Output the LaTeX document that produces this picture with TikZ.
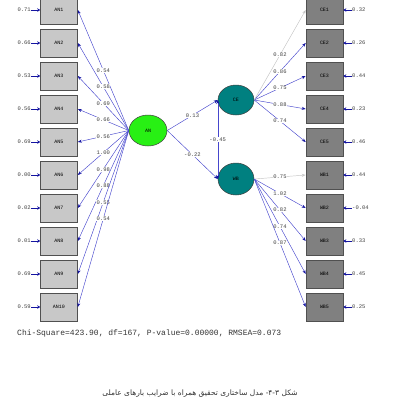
\documentclass[tikz,border=0pt]{standalone}
\usepackage{fontspec}
\setmonofont{Liberation Mono}
\newfontfamily\arabicfont[Script=Arabic]{DejaVu Sans}
\TeXXeTstate=1
\usetikzlibrary{arrows.meta,shapes.geometric}
\definecolor{lnblue}{RGB}{70,70,205}
\definecolor{tipblue}{RGB}{20,20,160}
\definecolor{lbox}{RGB}{200,200,200}
\definecolor{dbox}{RGB}{128,128,128}
\definecolor{boxedge}{RGB}{80,80,80}
\definecolor{angreen}{RGB}{40,240,20}
\definecolor{tealc}{RGB}{0,128,128}
\definecolor{fixgray}{RGB}{195,195,195}
\begin{document}
\begin{tikzpicture}[x=1pt,y=-1pt,
 obsl/.style={draw=boxedge,fill=lbox,minimum width=37pt,minimum height=28pt,inner sep=0pt,line width=0.6pt,font=\ttfamily\fontsize{5}{5}\selectfont},
 obsr/.style={obsl,fill=dbox},
 lat/.style={ellipse,draw=black!75,line width=0.5pt,inner sep=0pt,font=\ttfamily\fontsize{5}{5}\selectfont},
 lpath/.style={draw=lnblue,line width=0.45pt,-{Stealth[length=4pt,width=3pt,color=tipblue]}},
 coef/.style={font=\ttfamily\fontsize{5.5}{5.5}\selectfont,fill=white,inner sep=0.4pt,text=black!75},
 errarr/.style={draw=tipblue,line width=1pt,-{Stealth[length=3pt,width=3.5pt]}},
 errlab/.style={font=\ttfamily\fontsize{5.5}{5.5}\selectfont,inner sep=0pt,text=black!75},
]
\useasboundingbox (0,0) rectangle (400,400);
% latent variables
\node[lat,fill=angreen,minimum width=38pt,minimum height=31pt] (AN) at (148,130.5) {AN};
\node[lat,fill=tealc,minimum width=36pt,minimum height=30pt] (CE) at (236,100) {CE};
\node[lat,fill=tealc,minimum width=36pt,minimum height=32pt] (WB) at (236,179) {WB};
% left indicators
\foreach \i/\ld/\er [evaluate=\i as \yy using {10+33*(\i-1)}] in
 {1/0.54/0.71,2/0.58/0.66,3/0.69/0.53,4/0.66/0.56,5/0.56/0.69,6/1.00/0.00,7/0.98/0.02,8/0.88/0.01,9/0.55/0.69,10/0.54/0.59}{
  \node[obsl] (A\i) at (59,\yy) {AN\i};
  \node[errlab,anchor=east] (eA\i) at (31,\yy) {\er};
  \draw[errarr] (eA\i.east) -- (A\i.west);
  \draw[lpath] (AN.west) -- node[coef,pos=0.5]{\ld} (A\i.east);
}
% CE indicators
\foreach \i/\ld/\er [evaluate=\i as \yy using {10+33*(\i-1)}] in
 {1/0.82/0.32,2/0.86/0.26,3/0.75/0.44,4/0.88/0.23,5/0.74/0.46}{
  \node[obsr] (C\i) at (324.5,\yy) {CE\i};
  \node[errlab,anchor=west] (eC\i) at (352,\yy) {\er};
  \draw[errarr] (eC\i.west) -- (C\i.east);
}
\foreach \i/\ld in {2/0.86,3/0.75,4/0.88,5/0.74}{
  \draw[lpath] (CE.east) -- node[coef,pos=0.5]{\ld} (C\i.west);
}
\draw[draw=fixgray,line width=0.45pt,-{Stealth[length=4pt,width=3pt]}] (CE.east) -- node[coef,pos=0.5]{0.82} (C1.west);
% WB indicators
\foreach \i/\ld/\er [evaluate=\i as \yy using {175+33*(\i-1)}] in
 {1/0.75/0.44,2/1.02/-0.04,3/0.82/0.33,4/0.74/0.45,5/0.87/0.25}{
  \node[obsr] (W\i) at (324.5,\yy) {WB\i};
  \node[errlab,anchor=west] (eW\i) at (352,\yy) {\er};
  \draw[errarr] (eW\i.west) -- (W\i.east);
}
\foreach \i/\ld in {2/1.02,3/0.82,4/0.74,5/0.87}{
  \draw[lpath] (WB.east) -- node[coef,pos=0.5]{\ld} (W\i.west);
}
\draw[draw=fixgray,line width=0.45pt,-{Stealth[length=4pt,width=3pt,open]}] (WB.east) -- node[coef,pos=0.5]{0.75} (W1.west);
% structural paths
\draw[lpath] (AN.east) -- node[coef]{0.13} (CE.west);
\draw[lpath] (AN.east) -- node[coef]{-0.22} (WB.west);
\draw[draw=lnblue,line width=0.45pt,{Stealth[length=4pt,width=3pt,color=tipblue]}-{Stealth[length=4pt,width=3pt,color=tipblue]}] (CE.west) -- node[coef]{-0.45} (WB.west);
% fit statistics
\node[anchor=west,inner sep=0pt,font=\ttfamily\fontsize{8}{8}\selectfont,text=black!80] (chi) at (17,333) {Chi-Square=423.90, df=167, P-value=0.00000, RMSEA=0.073};
% caption
\node[inner sep=0pt,font=\arabicfont\fontsize{7.5}{8}\selectfont,text=black!80] (cap) at (200,394) {\beginR شکل ۴-۳- مدل ساختاری تحقیق همراه با ضرایب بارهای عاملی\endR};
\end{tikzpicture}
\end{document}
